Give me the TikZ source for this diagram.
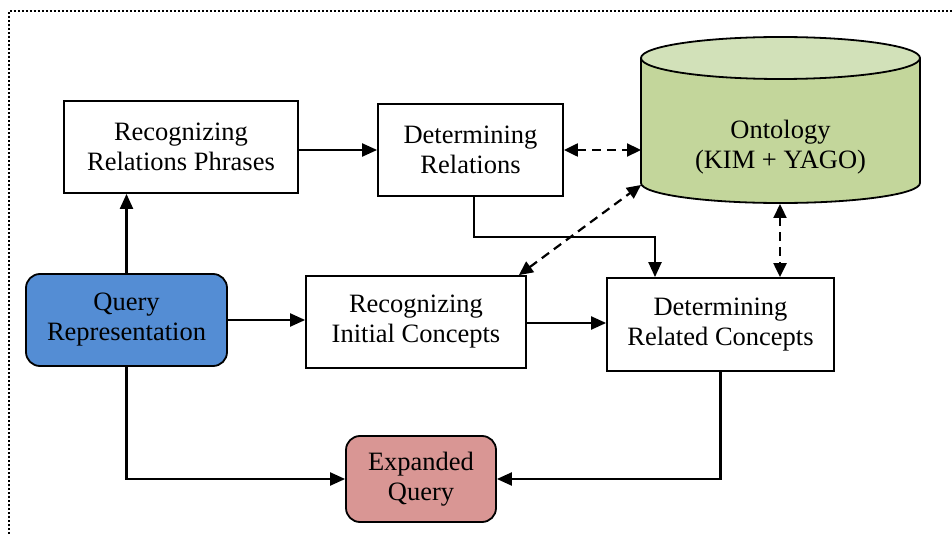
\documentclass[tikz,border=0pt]{standalone}
\usepackage{fontspec}
\setmainfont{Liberation Serif}
\usetikzlibrary{arrows.meta,calc}
\definecolor{qblue}{RGB}{84,141,212}
\definecolor{eqred}{RGB}{217,150,148}
\definecolor{ongreen}{RGB}{195,214,155}
\definecolor{ontop}{RGB}{210,225,185}
\begin{document}
\begin{tikzpicture}[x=1pt,y=-1pt,
  box/.style={draw,line width=1.8pt,rectangle,align=center,font=\fontsize{26.5}{30}\selectfont,inner sep=0pt},
  rbox/.style={box,rounded corners=14pt},
  arr/.style={line width=2.2pt,-{Triangle[length=15pt,width=13pt]}},
  darr/.style={line width=2.2pt,dashed,dash pattern=on 9pt off 6pt,{Triangle[length=14pt,width=13pt]}-{Triangle[length=14pt,width=13pt]}}]
\useasboundingbox (0,0) rectangle (952,534);
% dotted frame
\draw[line width=2.5pt,dash pattern=on 2pt off 2pt] (9,534) -- (9,11) -- (952,11);
% cylinder
\fill[ongreen] (641,58) -- (641,183) arc[start angle=180,end angle=360,x radius=139.5,y radius=-20] -- (920,58) -- cycle;
\draw[line width=1.8pt] (641,58) -- (641,183) arc[start angle=180,end angle=360,x radius=139.5,y radius=-20] -- (920,58);
\draw[line width=1.8pt,fill=ontop] (780.5,58) ellipse[x radius=139.5,y radius=21];
\node[align=center,font=\fontsize{26.5}{30}\selectfont,inner sep=0pt] (onto) at (780.5,147) {Ontology\\(KIM + YAGO)};
\coordinate (cl) at (641,150);
\coordinate (cbl) at (641,185);
\coordinate (cb) at (780,204);
% nodes
\node[box,minimum width=234pt,minimum height=92pt] (rrp) at (181,147) {Recognizing\\Relations Phrases};
\node[box,minimum width=185pt,minimum height=92pt] (dr) at (470.5,150) {Determining\\Relations};
\node[rbox,fill=qblue,minimum width=201pt,minimum height=92pt] (qr) at (126.5,320) {Query\\Representation};
\node[box,minimum width=220pt,minimum height=92pt] (ric) at (416,322) {Recognizing\\Initial Concepts};
\node[box,minimum width=227pt,minimum height=93pt] (drc) at (720.5,324.5) {Determining\\Related Concepts};
\node[rbox,fill=eqred,minimum width=150pt,minimum height=86pt] (eq) at (421,479) {Expanded\\Query};
% connectors
\draw[arr] (qr.north) -- (qr.north |- rrp.south);
\draw[arr] (rrp.east |- dr.west) -- (dr.west);
\draw[arr] (qr.east) -- (qr.east -| ric.west);
\draw[arr] (ric.east |- 0,323) -- (drc.west |- 0,323);
\draw[arr] ([xshift=3.5pt]dr.south) -- ([xshift=3.5pt]dr.south |- 0,237) -| ([xshift=-65.5pt]drc.north);
\draw[arr] (qr.south) |- (eq.west);
\draw[arr] (drc.south) |- (eq.east);
\draw[darr] (dr.east) -- (cl);
\draw[darr] ([xshift=-8pt]ric.north east) -- (cbl);
\draw[darr] (cb) -- (cb |- drc.north);
\end{tikzpicture}
\end{document}
